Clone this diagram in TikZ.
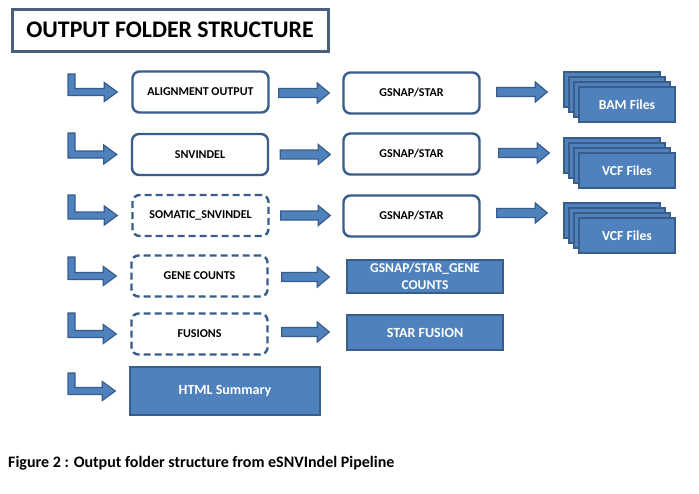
\documentclass[tikz,border=0pt]{standalone}
\usepackage{fontspec}
\setmainfont{Carlito}
\usetikzlibrary{calc}
\definecolor{bfill}{HTML}{4F81BD}
\definecolor{bline}{HTML}{385D8A}
\definecolor{tline}{HTML}{4A5F7C}
\tikzset{
  outbox/.style={draw=bline, line width=2.4pt, rounded corners=7pt, minimum width=136pt, minimum height=41pt, inner sep=0pt, font=\bfseries\fontsize{12}{13}\selectfont},
  dbox/.style={outbox, dash pattern=on 7pt off 4pt},
  fbox/.style={draw=bline, line width=1.4pt, fill=bfill, text=white, inner sep=0pt, font=\bfseries\fontsize{14}{15}\selectfont, align=center},
  stk/.style={fbox, minimum width=96pt, minimum height=35pt},
  arr/.style={fill=bfill, draw=bline, line width=1.2pt, line join=miter},
}
\newcommand\blockarr[2]{%
  \path let \p1=(#1), \p2=(#2) in [arr]
   (\x1,\y1+4.5pt) -- (\x2-12pt,\y1+4.5pt) -- (\x2-12pt,\y1+10pt) -- (\x2,\y1)
   -- (\x2-12pt,\y1-10pt) -- (\x2-12pt,\y1-4.5pt) -- (\x1,\y1-4.5pt) -- cycle;}
\newcommand\bentarr[2]{%
  \path let \p1=(#1), \p2=(#2) in [arr]
   (\x1-3.5pt,\y1) -- (\x1+3.5pt,\y1) -- (\x1+3.5pt,\y2+3.5pt) -- (\x2-13pt,\y2+3.5pt)
   -- (\x2-13pt,\y2+9.5pt) -- (\x2,\y2) -- (\x2-13pt,\y2-9.5pt) -- (\x2-13pt,\y2-3.5pt)
   -- (\x1-3.5pt,\y2-3.5pt) -- cycle;}
\begin{document}
\begin{tikzpicture}[x=1pt,y=-1pt]
\useasboundingbox[fill=white] (0,0) rectangle (699,493);
% title
\node[draw=tline, line width=3pt, minimum width=316pt, minimum height=42pt, inner sep=0pt,
  font=\bfseries\fontsize{23.8}{26}\selectfont] (title) at (170,30) {OUTPUT FOLDER STRUCTURE};
% column 1
\node[outbox] (align) at (200.5,92) {ALIGNMENT OUTPUT};
\node[outbox] (snv) at (200,154.5) {SNVINDEL};
\node[dbox] (som) at (200.5,215.5) {SOMATIC\_SNVINDEL};
\node[dbox] (gene) at (199.5,276) {GENE COUNTS};
\node[dbox] (fus) at (199.5,334) {FUSIONS};
\node[fbox, minimum width=190pt, minimum height=48pt, font=\bfseries\fontsize{14}{15}\selectfont] (html) at (225,391) {HTML Summary};
% column 2
\node[outbox] (gs1) at (411.5,93) {GSNAP/STAR};
\node[outbox] (gs2) at (411.5,154) {GSNAP/STAR};
\node[outbox] (gs3) at (411.5,216) {GSNAP/STAR};
\node[fbox, minimum width=156pt, minimum height=33pt, font=\bfseries\fontsize{13.5}{17}\selectfont] (gsg) at (425,276.5) {GSNAP/STAR\_GENE\\COUNTS};
\node[fbox, minimum width=156pt, minimum height=35pt] (sf) at (425,332.5) {STAR FUSION};
% stacks
\foreach \r/\y/\t in {1/104.5/BAM Files, 2/170.5/VCF Files, 3/235.5/VCF Files}{
  \node[stk] (s\r a) at (612,\y-15) {};
  \node[stk] (s\r b) at (617,\y-10) {};
  \node[stk] (s\r c) at (622,\y-5) {};
  \node[stk, font=\bfseries\fontsize{13.7}{15}\selectfont] (s\r) at (627,\y) {\t};
}
% bent arrows
\foreach \nm/\tp in {align/74, snv/133, som/195, gene/257, fus/313, html/373}{
  \coordinate (top\nm) at (71.5,\tp);
  \bentarr{top\nm}{$(\nm.west)+(-14,0)$}
}
% straight arrows
\blockarr{$(align.east)+(9,1)$}{$(gs1.west)+(-13,1)$}
\blockarr{$(snv.east)+(11,0)$}{$(gs2.west)+(-12,0)$}
\blockarr{$(som.east)+(11,0)$}{$(gs3.west)+(-12,0)$}
\blockarr{$(gene.east)+(13,1)$}{$(gsg.west)+(-17,1)$}
\blockarr{$(fus.east)+(13,-2)$}{$(sf.west)+(-17,-2)$}
\blockarr{$(gs1.east)+(16,-1)$}{$(s1a.west)+(-16,14)$}
\blockarr{$(gs2.east)+(18,-1)$}{$(s2a.west)+(-14,13)$}
\blockarr{$(gs3.east)+(16,-3)$}{$(s3a.west)+(-16,13)$}
% caption
\node[anchor=base west, inner sep=0pt, font=\bfseries\fontsize{16}{18}\selectfont] (cap) at (8,467) {Figure 2 : Output folder structure from eSNVIndel Pipeline};
\end{tikzpicture}
\end{document}
